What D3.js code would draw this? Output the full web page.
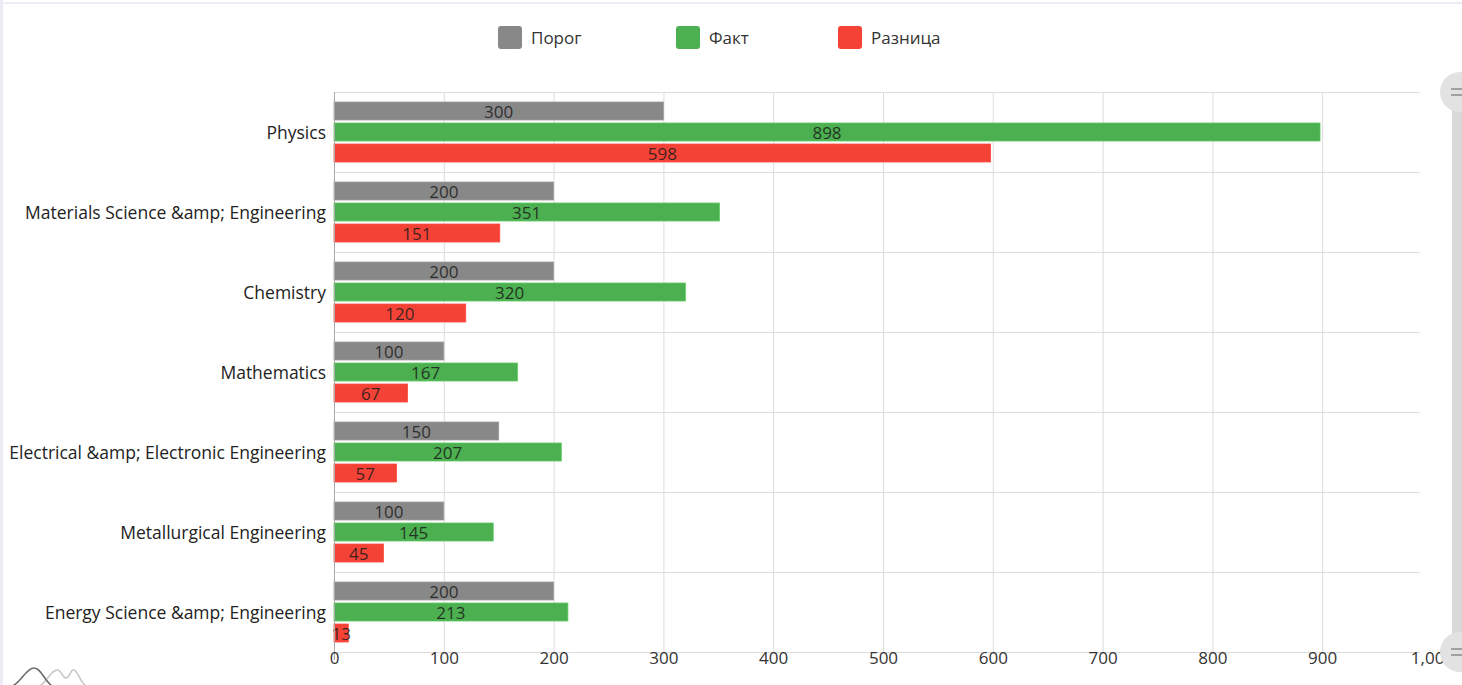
<!DOCTYPE html>
<html>
<head>
<meta charset="utf-8">
<script src="https://cdn.jsdelivr.net/npm/d3@7"></script>
<style>
  html, body { margin: 0; padding: 0; background: #fff; overflow: hidden; }
  svg { display: block; font-family: "Open Sans", "Noto Sans", sans-serif; }
</style>
</head>
<body>
<svg id="chart" width="1462" height="685"></svg>
<script>
// Per-department admissions: threshold, actual count and the difference
const categories = [
  "Physics",
  "Materials Science &amp; Engineering",
  "Chemistry",
  "Mathematics",
  "Electrical &amp; Electronic Engineering",
  "Metallurgical Engineering",
  "Energy Science &amp; Engineering"
];
const thresholdValues = [300, 200, 200, 100, 150, 100, 200];
const actualValues    = [898, 351, 320, 167, 207, 145, 213];
const diffValues      = [598, 151, 120, 67, 57, 45, 13];
const seriesNames  = ["Порог", "Факт", "Разница"];
const seriesColors = ["#888888", "#4caf50", "#f44336"];
const xTicks = [0, 100, 200, 300, 400, 500, 600, 700, 800, 900, 1000];

const series = [thresholdValues, actualValues, diffValues];

const svg = d3.select("#chart");
const W = 1462, H = 685;
const FONT = 17;
const plot = { left: 334, right: 1432, top: 92, bottom: 652 };
const gridRight = 1420;

// frame edges
svg.append("rect").attr("x", 0).attr("y", 0).attr("width", 3).attr("height", H).attr("fill", "#ececf6");
svg.append("rect").attr("x", 0).attr("y", 2).attr("width", W).attr("height", 2).attr("fill", "#ececf6");

const x = d3.scaleLinear().domain([0, 1000]).range([plot.left, plot.right]);
const y = d3.scaleBand().domain(categories).range([plot.top, plot.bottom]);
const inner = d3.scaleBand().domain(d3.range(series.length))
  .range([10, y.bandwidth() - 10]).paddingInner(1 / 7);

// grid
const grid = svg.append("g");
grid.selectAll("line.v").data(xTicks.filter(t => x(t) <= gridRight)).join("line")
  .attr("x1", d => x(d) + 0.5).attr("x2", d => x(d) + 0.5)
  .attr("y1", plot.top).attr("y2", plot.bottom)
  .attr("stroke", "#dcdcdc").attr("stroke-width", 1);
const bounds = [...categories.map(c => y(c)), plot.bottom];
grid.selectAll("line.h").data(bounds).join("line")
  .attr("x1", plot.left).attr("x2", gridRight)
  .attr("y1", d => d + 0.5).attr("y2", d => d + 0.5)
  .attr("stroke", "#dcdcdc").attr("stroke-width", 1);

// bars
const rows = [];
categories.forEach((c, i) => series.forEach((s, k) => rows.push({ c, k, v: s[i] })));

const bars = svg.append("g");
bars.selectAll("rect").data(rows).join("rect")
  .attr("x", x(0))
  .attr("y", d => y(d.c) + inner(d.k))
  .attr("width", d => x(d.v) - x(0))
  .attr("height", inner.bandwidth())
  .attr("fill", d => seriesColors[d.k])
  .attr("stroke", d => d3.color(seriesColors[d.k]).brighter(0.4))
  .attr("stroke-width", 0.8);

bars.selectAll("text").data(rows).join("text")
  .attr("x", d => (x(d.v) + x(0)) / 2)
  .attr("y", d => y(d.c) + inner(d.k) + inner.bandwidth() / 2 + 0.5)
  .attr("dy", "0.36em")
  .attr("text-anchor", "middle")
  .attr("font-size", FONT)
  .attr("fill", "#1a1a1a")
  .attr("fill-opacity", 0.85)
  .text(d => d.v);

// y axis labels
svg.append("g").selectAll("text").data(categories).join("text")
  .attr("x", 326)
  .attr("y", d => y(d) + y.bandwidth() / 2 + 1)
  .attr("dy", "0.36em")
  .attr("text-anchor", "end")
  .attr("font-size", 17.5)
  .attr("fill", "#222")
  .text(d => d);

// zero axis line
svg.append("line").attr("x1", x(0) + 0.5).attr("x2", x(0) + 0.5)
  .attr("y1", plot.top).attr("y2", plot.bottom + 8)
  .attr("stroke", "#aaa").attr("stroke-width", 1);

// x axis labels
const xAxis = d3.axisBottom(x).tickValues(xTicks).tickSize(0).tickPadding(0)
  .tickFormat(d3.format(","));
const xg = svg.append("g").attr("transform", `translate(0,${plot.bottom})`).call(xAxis);
xg.select(".domain").remove();
xg.selectAll("text").attr("font-size", FONT).attr("fill", "#333")
  .attr("font-family", "'Open Sans', 'Noto Sans', sans-serif");

// legend
const legendX = [498, 676, 838];
const lg = svg.append("g").selectAll("g").data(seriesNames).join("g")
  .attr("transform", (d, i) => `translate(${legendX[i]},26)`);
lg.append("rect").attr("width", 24).attr("height", 23).attr("rx", 3)
  .attr("fill", (d, i) => seriesColors[i]);
lg.append("text").attr("x", 33).attr("y", 12).attr("dy", "0.36em")
  .attr("font-size", FONT).attr("fill", "#333").text(d => d);

// vertical scrollbar
const sb = svg.append("g");
sb.append("rect").attr("x", 1452).attr("y", plot.top).attr("width", 12)
  .attr("height", plot.bottom - plot.top).attr("fill", "#d9d9d9");
[plot.top, plot.bottom].forEach(cy => {
  sb.append("circle").attr("cx", 1460).attr("cy", cy).attr("r", 20).attr("fill", "#e2e2e2");
  [-3, 3].forEach(o => sb.append("line")
    .attr("x1", 1451).attr("x2", 1464).attr("y1", cy + o).attr("y2", cy + o)
    .attr("stroke", "#8a8a8a").attr("stroke-width", 1.5));
});

// small brand mark, bottom left
const logo = svg.append("g").attr("fill", "none").attr("stroke-width", 1.6);
logo.append("path").attr("d", "M40,686 C48,680 52,669 58,670 C62,671 62,678 66,678 C70,678 70,669 74,670 C78,671 80,682 86,686")
  .attr("stroke", "#c8c8c8");
logo.append("path").attr("d", "M12,686 C20,684 26,668 34,668 C41,668 44,680 52,686")
  .attr("stroke", "#6b6b6b");
</script>
</body>
</html>
